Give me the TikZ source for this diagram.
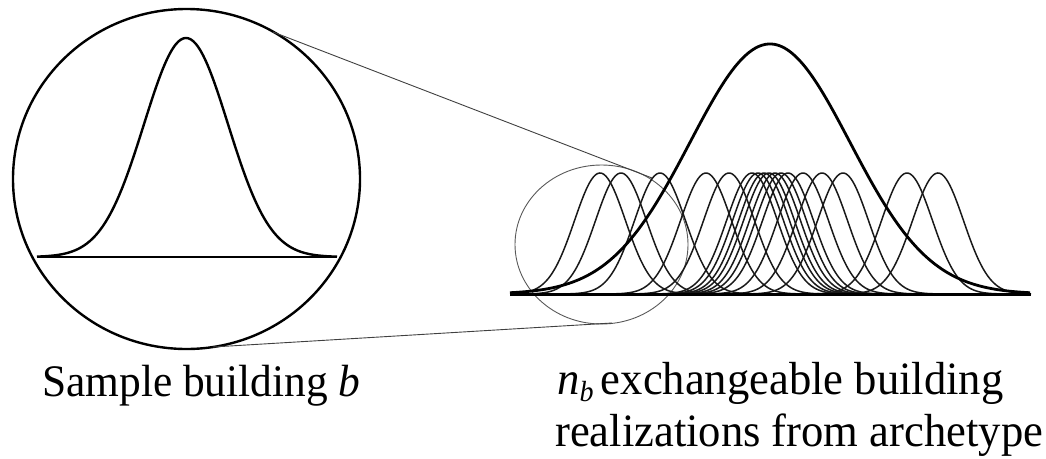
\documentclass[tikz,border=0pt]{standalone}
\usepackage{fontspec}
\setmainfont{Liberation Serif}
\begin{document}
\begin{tikzpicture}[x=1pt,y=-1pt,
  thickcurve/.style={line width=2.8pt,black},
  thincurve/.style={line width=1.5pt,black!90},
  connector/.style={line width=0.9pt,black!75},
  lens/.style={line width=0.9pt,black!65},
  lbl/.style={inner sep=0pt,anchor=base west,yscale=1.04}]
\useasboundingbox (0,0) rectangle (1046,458);
% big magnifier circle
\draw[line width=2.4pt] (186.5,179) ellipse [x radius=173.5,y radius=170];
% left sample curve
\draw[line width=1.2pt] (37,257) -- (337,257);
\draw[thickcurve,line width=2.4pt] plot[domain=37:337,samples=120,smooth] (\x,{257-219*exp(-((\x-186)/42)^2/2)});
% small lens ellipse
\draw[lens] (601.5,244.5) ellipse [x radius=86.5,y radius=79.5];
% connectors
\coordinate (a1) at (273,32);
\coordinate (a2) at (652,178);
\coordinate (b1) at (213,347);
\coordinate (b2) at (612,323);
\draw[connector] (a1) -- (a2);
\draw[connector] (b1) -- (b2);
% right realizations
\foreach \c in {600,621,660,706,729,752,758,764,769,775,781,788,803,822,843,907,938}{
  \pgfmathsetmacro{\lo}{max(510,\c-100)}
  \pgfmathsetmacro{\hi}{min(1031,\c+100)}
  \draw[thincurve] plot[domain=\lo:\hi,samples=90,smooth] (\x,{294-121*exp(-((\x-\c)/25.5)^2/2)});
}
\draw[line width=3pt] (510,294) -- (1031,294);
\draw[thickcurve] plot[domain=510:1030,samples=160,smooth] (\x,{294-250*exp(-((\x-770)/80)^2/2)});
% labels
\node[lbl,font=\fontsize{43.4}{52}\selectfont] (l1) at (42,396) {Sample building \textit{b}};
\node[lbl,font=\fontsize{44.6}{52}\selectfont] (l2) at (557,394) {\textit{n}\raisebox{-7pt}{\fontsize{28}{28}\selectfont\textit{b}}\,exchangeable building};
\node[lbl,font=\fontsize{44.6}{52}\selectfont] (l3) at (555,446) {realizations from archetype};
\end{tikzpicture}
\end{document}
